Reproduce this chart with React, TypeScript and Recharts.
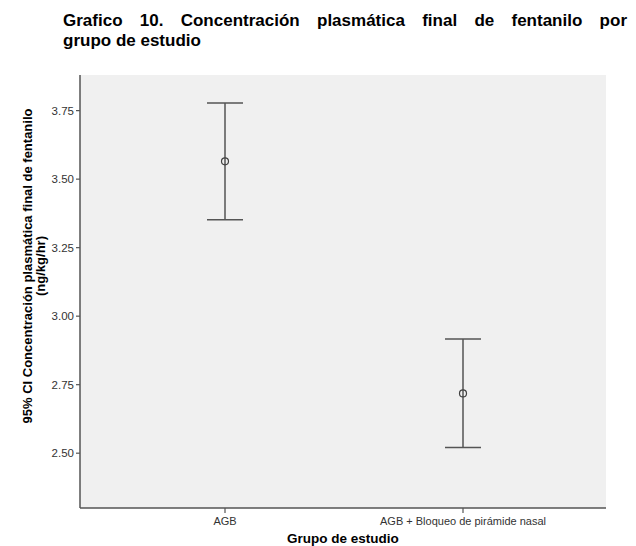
import React from 'react';
import { ComposedChart, Scatter, ErrorBar, XAxis, YAxis, CartesianGrid } from 'recharts';

const groups = ['AGB', 'AGB + Bloqueo de pirámide nasal'];
const means = [3.565, 2.718];
const lowerCI = [3.352, 2.521];
const upperCI = [3.778, 2.917];
const yTicks = [2.5, 2.75, 3.0, 3.25, 3.5, 3.75];
const yDomain = [2.3, 3.88];

const titleLine1 = 'Grafico 10. Concentración plasmática final de fentanilo por';
const titleLine2 = 'grupo de estudio';
const yTitle1 = '95% CI Concentración plasmática final de fentanilo';
const yTitle2 = '(ng/kg/hr)';
const xTitle = 'Grupo de estudio';

const data = groups.map((g, i) => ({
  group: g,
  mean: means[i],
  err: [means[i] - lowerCI[i], upperCI[i] - means[i]],
}));

const FONT = 'Arial, "Liberation Sans", sans-serif';
const LINE = '#555555';

const YTitle = (props: any) => {
  const cy = 266;
  return (
    <g>
      <text x={27} y={cy} transform={`rotate(-90, 27, ${cy})`} textAnchor="middle" dominantBaseline="central"
        fontFamily={FONT} fontWeight="bold" fontSize={13} fill="#000">{yTitle1}</text>
      <text x={40} y={cy} transform={`rotate(-90, 40, ${cy})`} textAnchor="middle" dominantBaseline="central"
        fontFamily={FONT} fontWeight="bold" fontSize={13} fill="#000">{yTitle2}</text>
    </g>
  );
};

const MeanDot = (props: any) => {
  const { cx, cy } = props;
  if (cx == null || cy == null) return null;
  return <circle cx={cx} cy={cy} r={3.5} fill="none" stroke="#404040" strokeWidth={1.2} />;
};

export default function App() {
  return (
    <div style={{ position: 'absolute', left: 0, top: 0, width: 636, height: 546, background: '#ffffff', overflow: 'hidden' }}>
      <div style={{ position: 'absolute', left: 63, top: 11, width: 564, fontFamily: FONT, fontWeight: 'bold', fontSize: 17, lineHeight: '20px', color: '#000' }}>
        <div style={{ textAlign: 'justify', textAlignLast: 'justify' as any }}>{titleLine1}</div>
        <div>{titleLine2}</div>
      </div>
      <div style={{ position: 'absolute', left: 0, top: 0 }}>
        <ComposedChart width={636} height={546} data={data} margin={{ top: 75, right: 30, bottom: 0, left: 20 }}>
          <CartesianGrid fill="#f0f0f0" horizontal={false} vertical={false} />
          <XAxis
            dataKey="group"
            type="category"
            padding={{ left: 145, right: 143 }}
            height={38}
            interval={0}
            tickSize={5}
            tickMargin={4}
            tick={{ fontSize: 11, fill: '#333', fontFamily: FONT }}
            axisLine={{ stroke: LINE, strokeWidth: 1.5 }}
            tickLine={{ stroke: LINE, strokeWidth: 1.2 }}
            label={{ value: xTitle, position: 'insideBottom', offset: 3, fontFamily: FONT, fontWeight: 'bold', fontSize: 13.5, fill: '#000' }}
          />
          <XAxis xAxisId="top" orientation="top" dataKey="group" height={0} tick={false} tickLine={false}
            axisLine={{ stroke: LINE, strokeWidth: 1.5 }} />
          <YAxis
            type="number"
            domain={yDomain}
            ticks={yTicks}
            allowDataOverflow
            width={60}
            tickSize={4}
            tickMargin={2}
            tickFormatter={(v: number) => v.toFixed(2)}
            tick={{ fontSize: 11.5, fill: '#333', fontFamily: FONT }}
            axisLine={{ stroke: LINE, strokeWidth: 1.5 }}
            tickLine={{ stroke: LINE, strokeWidth: 1.2 }}
            label={<YTitle />}
          />
          <YAxis yAxisId="right" orientation="right" width={0} type="number" domain={yDomain} allowDataOverflow
            tick={false} tickLine={false} axisLine={{ stroke: LINE, strokeWidth: 1.5 }} />
          <Scatter dataKey="mean" shape={<MeanDot />} isAnimationActive={false}>
            <ErrorBar dataKey="err" direction="y" width={18} stroke={LINE} strokeWidth={1.5} isAnimationActive={false} />
          </Scatter>
        </ComposedChart>
      </div>
    </div>
  );
}
